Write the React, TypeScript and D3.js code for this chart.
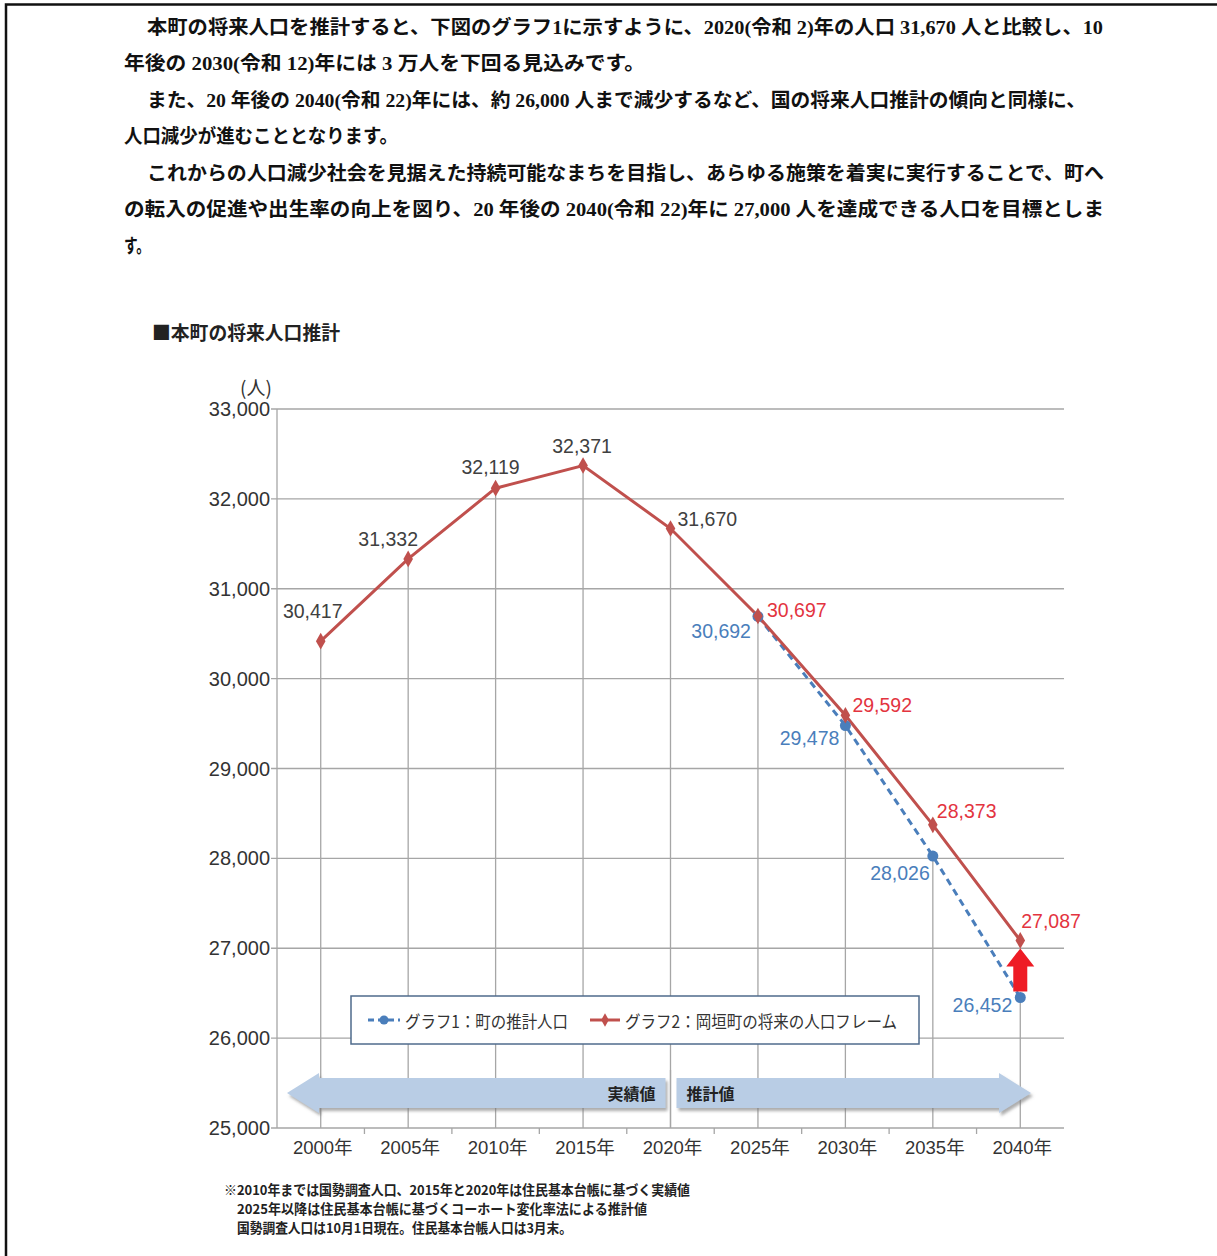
import * as d3 from 'd3'

const years = ['2000年', '2005年', '2010年', '2015年', '2020年', '2025年', '2030年', '2035年', '2040年']
const frameValues = [30417, 31332, 32119, 32371, 31670, 30697, 29592, 28373, 27087]
const estYears = ['2025年', '2030年', '2035年', '2040年']
const estValues = [30692, 29478, 28026, 26452]
const yTicks = [25000, 26000, 27000, 28000, 29000, 30000, 31000, 32000, 33000]

const legendLabels = ['グラフ1：町の推計人口', 'グラフ2：岡垣町の将来の人口フレーム']
const chartTitle = '■本町の将来人口推計'
const unitLabel = '(人)'

const paragraph = [
  '本町の将来人口を推計すると、下図のグラフ1に示すように、2020(令和 2)年の人口 31,670 人と比較し、10',
  '年後の 2030(令和 12)年には 3 万人を下回る見込みです。',
  'また、20 年後の 2040(令和 22)年には、約 26,000 人まで減少するなど、国の将来人口推計の傾向と同様に、',
  '人口減少が進むこととなります。',
  'これからの人口減少社会を見据えた持続可能なまちを目指し、あらゆる施策を着実に実行することで、町へ',
  'の転入の促進や出生率の向上を図り、20 年後の 2040(令和 22)年に 27,000 人を達成できる人口を目標としま',
  'す。',
]
// x start, x end of each paragraph line
const paraSpan: [number, number][] = [
  [147, 1103], [124, 645], [147, 1086], [124, 398], [147, 1104], [124, 1104], [124, 150],
]

const notes = [
  '※2010年までは国勢調査人口、2015年と2020年は住民基本台帳に基づく実績値',
  '2025年以降は住民基本台帳に基づくコーホート変化率法による推計値',
  '国勢調査人口は10月1日現在。住民基本台帳人口は3月末。',
]
const noteSpan: [number, number][] = [[224, 690], [237, 647], [237, 572]]

// label placement: dx, dy, anchor
const frameLabelPos: [number, number, string][] = [
  [-8, -30, 'middle'], [-20, -20, 'middle'], [-5, -21, 'middle'], [-1, -20, 'middle'], [7, -10, 'start'],
  [9, -6, 'start'], [7, -10, 'start'], [4, -14, 'start'], [1, -19, 'start'],
]
const estLabelPos: [number, number, string][] = [
  [-7, 15, 'end'], [-6, 12, 'end'], [-3, 17, 'end'], [-8, 7, 'end'],
]

const RED = '#c0504d'
const RED_TEXT = '#e3343f'
const BLUE = '#4a7ebb'
const GRID = '#a6a6a6'
const CJK = '"Noto Sans CJK JP", sans-serif'
const NUM = '"Liberation Sans", Arial, "Noto Sans CJK JP", sans-serif'

export default function App() {
  const W = 1217
  const H = 1256
  const left = 277
  const right = 1064
  const top = 409
  const bottom = 1128

  const x = d3.scalePoint<string>().domain(years).range([left, right]).padding(0.5)
  const y = d3.scaleLinear().domain([25000, 33000]).range([bottom, top])
  const step = x.step()

  const line = d3.line<[string, number]>().x(d => x(d[0])!).y(d => y(d[1]))
  const framePts: [string, number][] = years.map((yr, i) => [yr, frameValues[i]])
  const estPts: [string, number][] = estYears.map((yr, i) => [yr, estValues[i]])

  const dropTop = (yr: string, i: number) => {
    const j = estYears.indexOf(yr)
    return j >= 0 ? Math.max(y(frameValues[i]), y(estValues[j])) : y(frameValues[i])
  }

  const fmt = d3.format(',')
  const diamond = d3.symbol().type(d3.symbolDiamond).size(80)()

  // blue band arrows
  const aTop = 1073, bTop = 1078, bBot = 1108, aBot = 1113, aMid = 1093
  const xMid = x('2020年')!
  const leftArrow = `M287,${aMid} L319,${aTop} L319,${bTop} L${xMid - 5},${bTop} L${xMid - 5},${bBot} L319,${bBot} L319,${aBot} Z`
  const rightArrow = `M${xMid + 6},${bTop} L999,${bTop} L999,${aTop} L1031,${aMid} L999,${aBot} L999,${bBot} L${xMid + 6},${bBot} Z`

  // red up arrow at 2040
  const rx = x('2040年')!
  const ry0 = y(frameValues[8]) + 8
  const ry1 = y(estValues[3]) - 6
  const upArrow = `M${rx},${ry0} L${rx + 14},${ry0 + 18} L${rx + 7},${ry0 + 18} L${rx + 7},${ry1} L${rx - 7},${ry1} L${rx - 7},${ry0 + 18} L${rx - 14},${ry0 + 18} Z`

  return (
    <div style={{ position: 'absolute', left: 0, top: 0 }}>
      <svg width={W} height={H} style={{ display: 'block', background: '#fff' }}>
        <defs>
          <filter id="shadow" x="-5%" y="-30%" width="110%" height="180%">
            <feDropShadow dx="2" dy="3" stdDeviation="1.5" floodColor="#777" floodOpacity="0.6" />
          </filter>
        </defs>
        <rect width={W} height={H} fill="#fff" />
        {/* page frame */}
        <path d={`M6,${H} L6,4.5 L${W},4.5`} fill="none" stroke="#111" strokeWidth={2.5} />

        {/* paragraph */}
        <g fontFamily={`"Liberation Serif", ${CJK}`} fontWeight="bold" fontSize={19.5} fill="#111">
          {paragraph.map((t, i) => (
            <text key={i} x={paraSpan[i][0]} y={27 + i * 36.5} dominantBaseline="central"
              textLength={paraSpan[i][1] - paraSpan[i][0]} lengthAdjust="spacingAndGlyphs">{t}</text>
          ))}
        </g>

        {/* title */}
        <text x={152} y={331} dominantBaseline="central" fontFamily={CJK} fontWeight="bold" fontSize={19}
          fill="#222" textLength={188} lengthAdjust="spacingAndGlyphs">{chartTitle}</text>

        {/* horizontal grid */}
        <g stroke={GRID} strokeWidth={1.3}>
          {yTicks.map(t => (
            <line key={t} x1={left - 6} x2={right} y1={y(t)} y2={y(t)} />
          ))}
          <line x1={left} x2={left} y1={top} y2={bottom} />
          {years.map((yr, i) => (
            <line key={yr} x1={x(yr)} x2={x(yr)} y1={dropTop(yr, i)} y2={bottom} />
          ))}
          {d3.range(1, years.length).map(k => (
            <line key={k} x1={left + k * step} x2={left + k * step} y1={bottom} y2={bottom + 6} />
          ))}
        </g>

        {/* y tick labels */}
        <g fontFamily={NUM} fontSize={20} fill="#333" textAnchor="end">
          {yTicks.map(t => (
            <text key={t} x={left - 7} y={y(t)} dominantBaseline="central">{fmt(t)}</text>
          ))}
        </g>
        <text x={256} y={386} textAnchor="middle" dominantBaseline="central" fontFamily={CJK} fontSize={19} fill="#333">{unitLabel}</text>

        {/* x tick labels */}
        <g fontFamily={NUM} fontSize={18.5} fill="#333" textAnchor="middle">
          {years.map(yr => (
            <text key={yr} x={x(yr)! + 2} y={1147} dominantBaseline="central">{yr}</text>
          ))}
        </g>

        {/* band arrows */}
        <g filter="url(#shadow)">
          <path d={leftArrow} fill="#b9cde5" />
          <path d={rightArrow} fill="#b9cde5" />
        </g>
        <line x1={xMid} x2={xMid} y1={1070} y2={bottom} stroke={GRID} strokeWidth={1.3} />
        <text x={xMid - 15} y={aMid} textAnchor="end" dominantBaseline="central" fontFamily={CJK} fontWeight="bold" fontSize={16} fill="#222">実績値</text>
        <text x={xMid + 16} y={aMid} textAnchor="start" dominantBaseline="central" fontFamily={CJK} fontWeight="bold" fontSize={16} fill="#222">推計値</text>

        {/* legend */}
        <rect x={351} y={996} width={568} height={48} fill="#fff" stroke="#4f6b8c" strokeWidth={1.5} />
        <line x1={368} x2={400} y1={1020} y2={1020} stroke={BLUE} strokeWidth={3} strokeDasharray="6,4" />
        <circle cx={384} cy={1020} r={4.5} fill={BLUE} />
        <text x={405} y={1020} dominantBaseline="central" fontFamily={CJK} fontSize={17} fill="#333"
          textLength={163} lengthAdjust="spacingAndGlyphs">{legendLabels[0]}</text>
        <line x1={590} x2={620} y1={1020} y2={1020} stroke={RED} strokeWidth={3} />
        <path d={diamond} transform="translate(605,1020) scale(0.8)" fill={RED} />
        <text x={625} y={1020} dominantBaseline="central" fontFamily={CJK} fontSize={17} fill="#333"
          textLength={272} lengthAdjust="spacingAndGlyphs">{legendLabels[1]}</text>

        {/* series */}
        <path d={line(estPts) ?? ''} fill="none" stroke={BLUE} strokeWidth={3} strokeDasharray="7,5" />
        <path d={line(framePts) ?? ''} fill="none" stroke={RED} strokeWidth={3} />
        {estPts.map(d => (
          <circle key={d[0]} cx={x(d[0])} cy={y(d[1])} r={5.5} fill={BLUE} />
        ))}
        {framePts.map(d => (
          <path key={d[0]} d={diamond} transform={`translate(${x(d[0])},${y(d[1])})`} fill={RED} />
        ))}

        {/* red up arrow */}
        <path d={upArrow} fill="#ee1c25" />

        {/* data labels */}
        <g fontFamily={NUM} fontSize={19.5}>
          {framePts.map((d, i) => (
            <text key={d[0]} x={x(d[0])! + frameLabelPos[i][0]} y={y(d[1]) + frameLabelPos[i][1]}
              textAnchor={frameLabelPos[i][2] as any} dominantBaseline="central"
              fill={i >= 5 ? RED_TEXT : '#404040'}>{fmt(d[1])}</text>
          ))}
          {estPts.map((d, i) => (
            <text key={d[0]} x={x(d[0])! + estLabelPos[i][0]} y={y(d[1]) + estLabelPos[i][1]}
              textAnchor={estLabelPos[i][2] as any} dominantBaseline="central" fill={BLUE}>{fmt(d[1])}</text>
          ))}
        </g>

        {/* notes */}
        <g fontFamily={CJK} fontWeight="bold" fontSize={13.5} fill="#222">
          {notes.map((t, i) => (
            <text key={i} x={noteSpan[i][0]} y={1189 + i * 19} dominantBaseline="central"
              textLength={noteSpan[i][1] - noteSpan[i][0]} lengthAdjust="spacingAndGlyphs">{t}</text>
          ))}
        </g>
      </svg>
    </div>
  )
}
